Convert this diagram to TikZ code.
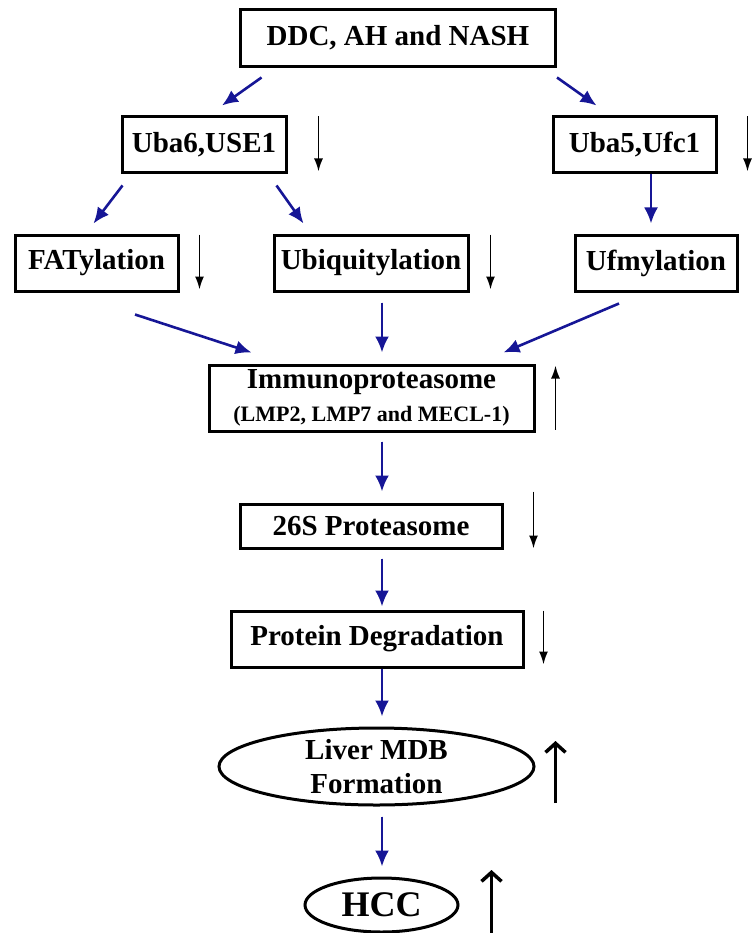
\documentclass[tikz,border=0pt]{standalone}
\usepackage{fontspec}
\setmainfont{Liberation Serif}
\usepackage{tikz}
\usetikzlibrary{shapes.geometric,arrows.meta}

\definecolor{pfeilblau}{RGB}{22,22,150}

\begin{document}
\begin{tikzpicture}[%show background rectangle,
        x=1pt, y=-1pt,
        font=\bfseries\fontsize{29}{32}\selectfont,
        kasten/.style={draw, line width=3pt, inner sep=0pt},
        oval/.style={draw, ellipse, line width=3pt, inner sep=0pt},
        pfeil/.style={-{Latex[length=16pt,width=14pt]}, draw=pfeilblau, fill=pfeilblau, line width=2.6pt},
        trend/.style={-{Latex[length=13pt,width=9pt]}, line width=1.8pt},
        trendgross/.style={-{Straight Barb[length=9pt,width=20pt,line width=3.5pt]}, line width=3.5pt},
        >=latex % Voreinstellung für Pfeilspitzen
        ]
            \useasboundingbox (0,0) rectangle (752,933);

            % Kästen
            \node[kasten, minimum width=315pt, minimum height=57pt] (DDC) at (398,38) {DDC,\ AH\ and\ NASH};
            \node[kasten, minimum width=164pt, minimum height=56pt] (UBA6) at (204,145) {Uba6,USE1};
            \node[kasten, minimum width=163pt, minimum height=56pt] (UBA5) at (634.5,145) {Uba5,Ufc1};
            \node[kasten, minimum width=163pt, minimum height=56pt] (FAT) at (96.5,263) {FATylation};
            \node[kasten, minimum width=194pt, minimum height=56pt] (UBI) at (371,263) {Ubiquitylation};
            \node[kasten, minimum width=162pt, minimum height=56pt] (UFM) at (656,263) {Ufmylation};
            \node[kasten, minimum width=325pt, minimum height=66pt, align=center] (IMM) at (371.5,398)
                {Immunoproteasome\\[1pt]{\fontsize{22}{24}\selectfont(LMP2, LMP7 and MECL-1)}};
            \node[kasten, minimum width=262pt, minimum height=44pt] (P26) at (371,526) {26S Proteasome};
            \node[kasten, minimum width=292pt, minimum height=56pt] (PD) at (377,639) {Protein Degradation};
            \node[oval, minimum width=315pt, minimum height=77pt, align=center] (LIV) at (376.5,766.5)
                {Liver MDB\\[2pt]Formation};
            \node[oval, minimum width=153pt, minimum height=54pt, font=\bfseries\fontsize{36}{38}\selectfont] (HCC) at (381.5,905) {HCC};

            % Pfeile
            \draw[pfeil] ([shift={(22.5,9.5)}]DDC.south west) -- ([shift={(18,-10)}]UBA6.north);
            \draw[pfeil] ([shift={(0,9.5)}]DDC.south east) -- ([shift={(-38,-10)}]UBA5.north);
            \draw[pfeil] ([shift={(2,11)}]UBA6.south west) -- ([shift={(-3,-10)}]FAT.north);
            \draw[pfeil] ([shift={(-11,11)}]UBA6.south east) -- ([shift={(31,-10)}]UBI.north west);
            \draw[pfeil] ([shift={(16.5,0)}]UBA5.south) -- ([shift={(-5,-10)}]UFM.north);
            \draw[pfeil] ([shift={(38.5,22)}]FAT.south) -- ([shift={(44,-11)}]IMM.north west);
            \draw[pfeil] ([shift={(11,10)}]UBI.south) -- ([shift={(10.5,-11)}]IMM.north);
            \draw[pfeil] ([shift={(-37,11)}]UFM.south) -- ([shift={(-32,-11)}]IMM.north east);
            \draw[pfeil] ([shift={(10.5,9)}]IMM.south) -- ([shift={(11,-11)}]P26.north);
            \draw[pfeil] ([shift={(11,9)}]P26.south) -- ([shift={(5,-3)}]PD.north);
            \draw[pfeil] ([shift={(5,0)}]PD.south) -- ([shift={(5.5,-10)}]LIV.north);
            \draw[pfeil] ([shift={(5.5,10)}]LIV.south) -- ([shift={(0.5,-10)}]HCC.north);

            % Tendenzen
            \draw[trend] ([shift={(31,1)}]UBA6.north east) -- ([shift={(31,-3)}]UBA6.south east);
            \draw[trend] ([shift={(30,1)}]UBA5.north east) -- ([shift={(30,-3)}]UBA5.south east);
            \draw[trend] ([shift={(20,1)}]FAT.north east) -- ([shift={(20,-3)}]FAT.south east);
            \draw[trend] ([shift={(21,1)}]UBI.north east) -- ([shift={(21,-3)}]UBI.south east);
            \draw[trend] ([shift={(20,-3)}]IMM.south east) -- ([shift={(20,2)}]IMM.north east);
            \draw[trend] ([shift={(30,-11)}]P26.north east) -- ([shift={(30,-1)}]P26.south east);
            \draw[trend] ([shift={(19,1)}]PD.north east) -- ([shift={(19,-4)}]PD.south east);
            \draw[trendgross] ([shift={(20,36.5)}]LIV.east) -- ([shift={(20,-25.5)}]LIV.east);
            \draw[trendgross] ([shift={(32,28)}]HCC.east) -- ([shift={(32,-35)}]HCC.east);

        \end{tikzpicture}
\end{document}
